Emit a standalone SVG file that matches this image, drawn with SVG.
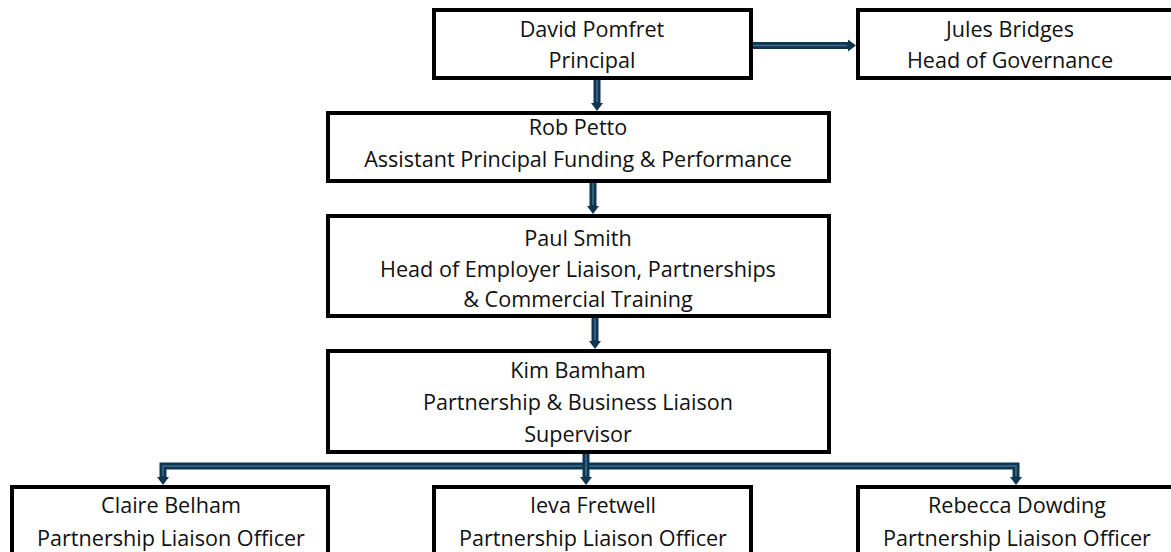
<svg xmlns="http://www.w3.org/2000/svg" width="1171" height="552" viewBox="0 0 1171 552">
<style>
.box{fill:#fff;stroke:#000;stroke-width:4}
.t{font-family:"Open Sans","Liberation Sans",sans-serif;font-size:21.6px;fill:#111;text-anchor:middle}
.co{fill:none;stroke:#0f3550;stroke-width:7;stroke-linejoin:miter}
.ci{fill:none;stroke:#3a6f8f;stroke-width:1.6;stroke-linejoin:miter}
</style>
<defs>
<marker id="ah" markerUnits="userSpaceOnUse" markerWidth="9" markerHeight="14" refX="0" refY="7" orient="auto">
<path d="M0,1 L8,7 L0,13 z" fill="#0f3550"/>
</marker>
</defs>
<rect width="1171" height="552" fill="#fff"/>
<g id="connectors">
<path class="co" d="M597,80 V103" marker-end="url(#ah)"/><path class="ci" d="M597,80 V102"/>
<path class="co" d="M753,45.5 H848" marker-end="url(#ah)"/><path class="ci" d="M753,45.5 H847"/>
<path class="co" d="M593,183 V206" marker-end="url(#ah)"/><path class="ci" d="M593,183 V205"/>
<path class="co" d="M595,318 V341" marker-end="url(#ah)"/><path class="ci" d="M595,318 V340"/>
<path class="co" d="M586,466 H163 V477" marker-end="url(#ah)"/><path class="ci" d="M586,466 H163 V476"/>
<path class="co" d="M586,466 H1016 V477" marker-end="url(#ah)"/><path class="ci" d="M586,466 H1016 V476"/>
<path class="co" d="M586,454 V477" marker-end="url(#ah)"/><path class="ci" d="M586,454 V476"/>
</g>
<g id="david"><rect class="box" x="434" y="10" width="317" height="68"/>
<text class="t" x="592" y="37">David Pomfret</text><text class="t" x="592" y="68">Principal</text></g>
<g id="jules"><rect class="box" x="858" y="10" width="330" height="68"/>
<text class="t" x="1010" y="37">Jules Bridges</text><text class="t" x="1010" y="68">Head of Governance</text></g>
<g id="rob"><rect class="box" x="328" y="113" width="501" height="68"/>
<text class="t" x="578" y="135">Rob Petto</text><text class="t" x="578" y="167">Assistant Principal Funding &amp; Performance</text></g>
<g id="paul"><rect class="box" x="328" y="216" width="501" height="100"/>
<text class="t" x="578" y="246">Paul Smith</text><text class="t" x="578" y="277">Head of Employer Liaison, Partnerships</text><text class="t" x="578" y="307">&amp; Commercial Training</text></g>
<g id="kim"><rect class="box" x="328" y="351" width="501" height="101"/>
<text class="t" x="578" y="378">Kim Bamham</text><text class="t" x="578" y="410">Partnership &amp; Business Liaison</text><text class="t" x="578" y="442">Supervisor</text></g>
<g id="claire"><rect class="box" x="12" y="487" width="316" height="90"/>
<text class="t" x="171" y="513">Claire Belham</text><text class="t" x="171" y="546">Partnership Liaison Officer</text></g>
<g id="ieva"><rect class="box" x="434" y="487" width="317" height="90"/>
<text class="t" x="593" y="513">Ieva Fretwell</text><text class="t" x="593" y="546">Partnership Liaison Officer</text></g>
<g id="rebecca"><rect class="box" x="858" y="487" width="330" height="90"/>
<text class="t" x="1017" y="513">Rebecca Dowding</text><text class="t" x="1017" y="546">Partnership Liaison Officer</text></g>
</svg>
